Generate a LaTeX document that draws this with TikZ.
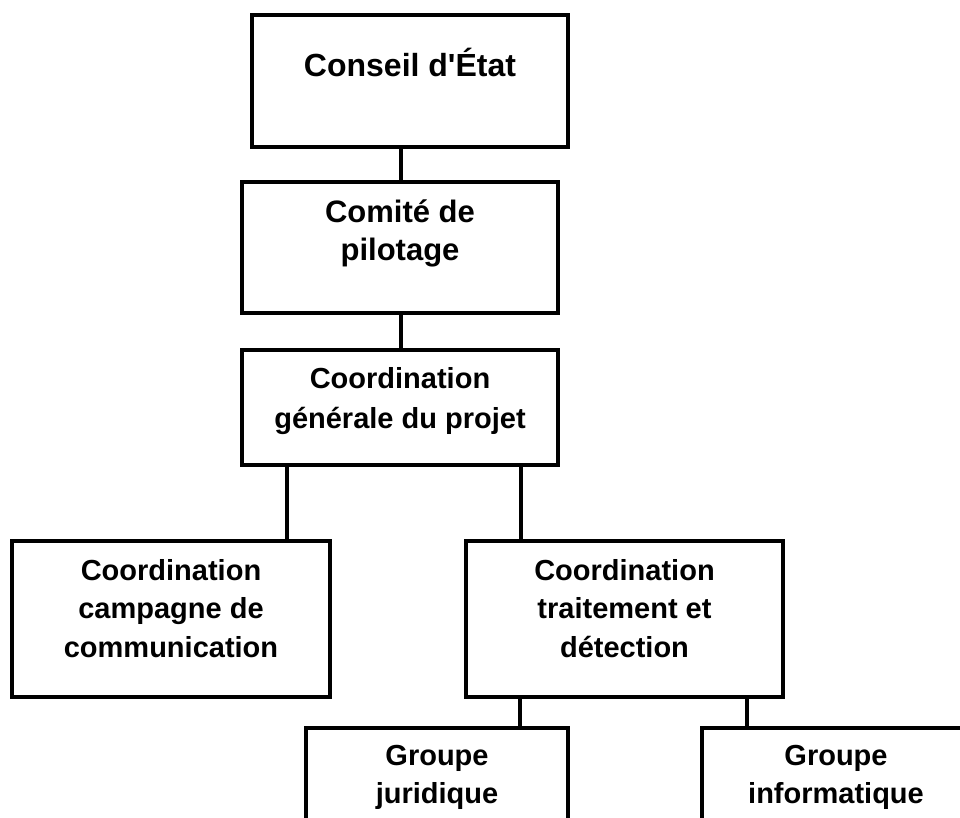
\documentclass[tikz,border=0pt]{standalone}
\usepackage{fontspec}
\setmainfont{Liberation Sans}[Ligatures=TeXOff]
\begin{document}
\begin{tikzpicture}[x=1pt,y=-1pt,
  box/.style={draw, line width=3.5pt, inner sep=0pt, rectangle},
  txt/.style={align=center, anchor=north, inner sep=0pt},
  link/.style={line width=3.5pt}]
\useasboundingbox (0,0) rectangle (960,818);
\clip (0,0) rectangle (960,818);
\fill[white] (0,0) rectangle (960,818);
% boxes
\node[box, minimum width=316pt, minimum height=132pt] (b1) at (410,81) {};
\node[box, minimum width=316pt, minimum height=131pt] (b2) at (400,247.5) {};
\node[box, minimum width=316pt, minimum height=115pt] (b3) at (400,407.5) {};
\node[box, minimum width=318pt, minimum height=156pt] (b4) at (171,619) {};
\node[box, minimum width=317pt, minimum height=156pt] (b5) at (624.5,619) {};
\node[box, minimum width=262pt, minimum height=152pt] (b6) at (437,804) {};
\node[box, minimum width=268pt, minimum height=152pt] (b7) at (836,804) {};
% texts
\node[txt, font=\fontsize{32}{40}\selectfont\bfseries] (t1) at (410,48) {\strut Conseil d'État};
\node[txt, font=\fontsize{31}{38}\selectfont\bfseries] (t2) at (400,195.5) {\strut Comité de\\pilotage};
\node[txt, font=\fontsize{29}{40}\selectfont\bfseries] (t3) at (400,360) {\strut Coordination\\générale du projet};
\node[txt, font=\fontsize{29}{38.5}\selectfont\bfseries] (t4) at (171,553) {\strut Coordination\\campagne de\\communication};
\node[txt, font=\fontsize{29}{38.5}\selectfont\bfseries] (t5) at (624.5,553) {\strut Coordination\\traitement et\\détection};
\node[txt, font=\fontsize{29}{38.5}\selectfont\bfseries] (t6) at (437,738) {\strut Groupe\\juridique};
\node[txt, font=\fontsize{29}{38.5}\selectfont\bfseries] (t7) at (836,738) {\strut Groupe\\informatique};
% connectors
\draw[link] ([xshift=1pt]b2.north) -- ([xshift=1pt]b2.north |- b1.south);
\draw[link] ([xshift=1pt]b2.south) -- ([xshift=1pt]b2.south |- b3.north);
\draw[link] ([xshift=116pt]b4.north) -- ([xshift=116pt]b4.north |- b3.south);
\draw[link] ([xshift=-103.5pt]b5.north) -- ([xshift=-103.5pt]b5.north |- b3.south);
\draw[link] ([xshift=83pt]b6.north) -- ([xshift=83pt]b6.north |- b5.south);
\draw[link] ([xshift=-89pt]b7.north) -- ([xshift=-89pt]b7.north |- b5.south);
\end{tikzpicture}
\end{document}
